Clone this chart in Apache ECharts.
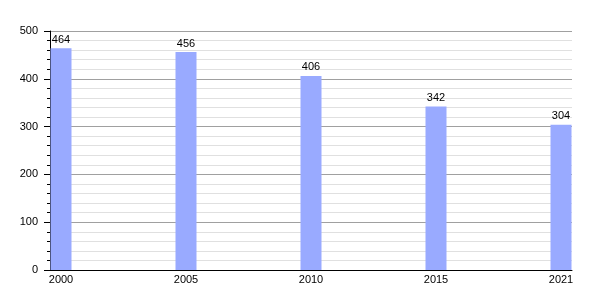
<!DOCTYPE html>
<html><head><meta charset="utf-8">
<script src="https://cdn.jsdelivr.net/npm/echarts@6/dist/echarts.min.js"></script>
<style>html,body{margin:0;padding:0;background:#fff}#c{width:600px;height:300px}</style>
</head><body><div id="c"></div>
<script>
const years = ['2000', '2005', '2010', '2015', '2021'];
const values = [464, 456, 406, 342, 304];
const yTicks = [0, 100, 200, 300, 400, 500];

const idx = years.map((_, i) => i);
const chart = echarts.init(document.getElementById('c'), null, {renderer: 'canvas'});
chart.setOption({
  animation: false,
  backgroundColor: '#fff',
  textStyle: {fontFamily: 'Liberation Sans, Arial, sans-serif'},
  grid: {left: 50, right: 28, top: 31, bottom: 30},
  xAxis: {
    type: 'value', min: -0.088, max: 4.088,
    axisLine: {show: true, onZero: false, lineStyle: {color: '#000', width: 1}},
    axisTick: {show: false},
    splitLine: {show: false},
    axisLabel: {customValues: idx, formatter: v => years[Math.round(v)], color: '#000', fontSize: 11, margin: 4}
  },
  yAxis: {
    type: 'value', min: yTicks[0], max: yTicks[yTicks.length - 1], interval: 100,
    axisLine: {show: true, onZero: false, lineStyle: {color: '#000', width: 1}},
    axisTick: {show: true, length: 6, lineStyle: {color: '#000'}},
    minorTick: {show: true, splitNumber: 5, length: 3, lineStyle: {color: '#000'}},
    splitLine: {show: true, lineStyle: {color: '#a0a0a0', width: 1}},
    minorSplitLine: {show: true, lineStyle: {color: '#e0e0e0', width: 1}},
    axisLabel: {color: '#000', fontSize: 11, margin: 12}
  },
  series: [{
    type: 'bar',
    data: idx.map(i => [i, values[i]]),
    barWidth: 21,
    itemStyle: {color: '#99aaff'},
    label: {show: true, position: 'top', color: '#000', fontSize: 11, distance: 3}
  }]
});
</script></body></html>
